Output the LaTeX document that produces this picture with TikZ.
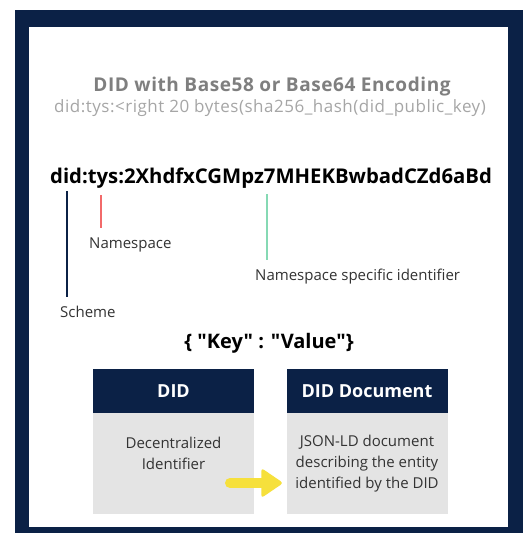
\documentclass[tikz,border=0pt]{standalone}
\usepackage{fontspec}
\setmainfont{Open Sans}
\newfontfamily\kvfont{Open Sans}[Ligatures=TeXOff]
\definecolor{navy}{HTML}{0B2146}
\definecolor{titlegray}{HTML}{7F7F7F}
\definecolor{subgray}{HTML}{A6A6A6}
\definecolor{boxgray}{HTML}{E4E4E4}
\definecolor{nsred}{HTML}{F26A6A}
\definecolor{nsgreen}{HTML}{86D9B4}
\definecolor{arrowyellow}{HTML}{F6E03C}
\tikzset{
  lbl/.style={font=\fontsize{15}{17}\selectfont, text=black!80, inner sep=0pt},
  header/.style={fill=navy, text=white, font=\bfseries\fontsize{18}{20}\selectfont, minimum width=161pt, minimum height=44pt, inner sep=0pt},
  body/.style={fill=boxgray, text=black!80, font=\fontsize{15}{21}\selectfont, minimum width=161pt, minimum height=101pt, inner sep=0pt, align=center},
  pointer/.style={line width=2pt}
}
\begin{document}
\begin{tikzpicture}[x=1pt,y=-1pt]
   \useasboundingbox (0,0) rectangle (523,533);
   \fill[navy] (15,10) rectangle (523,533);
   \fill[white] (29,27) rectangle (508,527);
   \node[text=titlegray, font=\bfseries\fontsize{19}{22}\selectfont\addfontfeatures{LetterSpace=3}] (title) at (272,87) {DID with Base58 or Base64 Encoding};
   \node[text=subgray, font=\fontsize{17}{19}\selectfont\addfontfeatures{LetterSpace=3}] (sub) at (270,108) {did:tys:<right 20 bytes(sha256\_hash(did\_public\_key)};
   \node[font=\bfseries\fontsize{20.3}{23}\selectfont] (did) at (271,178) {did:tys:2XhdfxCGMpz7MHEKBwbadCZd6aBd};
   \draw[pointer, navy] (67,191) -- (67,297);
   \draw[pointer, nsred] (101,195) -- (101,228);
   \draw[pointer, nsgreen] (267,194) -- (267,260);
   \node[lbl, anchor=west] (ns) at (89,245) {Namespace};
   \node[lbl, anchor=west] (nsi) at (255,277) {Namespace specific identifier};
   \node[lbl, anchor=west] (scheme) at (60,312) {Scheme};
   \node[font=\kvfont\bfseries\fontsize{20}{22}\selectfont] (kv) at (269,343) {\{ "Key" : "Value"\}};
   \node[header] (didhead) at (173.5,391) {DID};
   \node[body, anchor=north] (didbody) at (didhead.south) {Decentralized\\Identifier\\\mbox{}};
   \node[header] (dochead) at (367,391) {DID Document};
   \node[body, anchor=north] (docbody) at (dochead.south) {JSON-LD document\\describing the entity\\identified by the DID};
   \coordinate (arrowtail) at (230,483);
   \coordinate (arrowtip) at ([xshift=-3pt]arrowtail -| docbody.west);
   \draw[arrowyellow, line width=10pt, line cap=round] (arrowtail) -- ([xshift=-16pt]arrowtip);
   \fill[arrowyellow, rounded corners=3pt] (arrowtip) -- ([xshift=-22pt,yshift=-15pt]arrowtip) -- ([xshift=-22pt,yshift=15pt]arrowtip) -- cycle;
\end{tikzpicture}
\end{document}
